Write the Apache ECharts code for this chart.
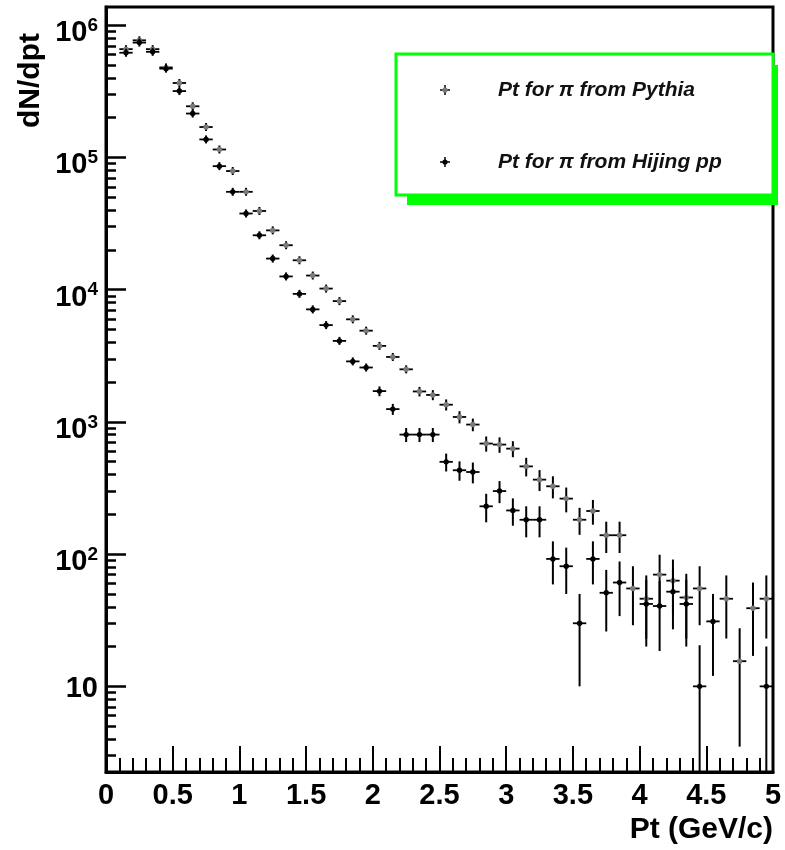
<!DOCTYPE html>
<html>
<head>
<meta charset="utf-8">
<script src="https://cdn.jsdelivr.net/npm/echarts@6/dist/echarts.min.js"></script>
<style>
html,body{margin:0;padding:0;background:#fff;}
#chart{width:785px;height:850px;}
</style>
</head>
<body>
<div id="chart"></div>
<script>
// ---- data ----
const ptBins = [0.15,0.25,0.35,0.45,0.55,0.65,0.75,0.85,0.95,1.05,1.15,1.25,1.35,1.45,1.55,1.65,1.75,1.85,1.95,2.05,2.15,2.25,2.35,2.45,2.55,2.65,2.75,2.85,2.95,3.05,3.15,3.25,3.35,3.45,3.55,3.65,3.75,3.85,3.95,4.05,4.15,4.25,4.35,4.45,4.55,4.65,4.75,4.85,4.95];
const pythiaValues = [660000,770000,660000,480000,366000,244000,170000,115000,79000,55000,39400,28100,21700,16700,12800,10200,8200,5970,4900,3760,3100,2500,1700,1600,1350,1090,955,686,674,628,461,366,326,263,182,212,139,139,55,46,70,63,47,55,null,46,15.5,39,46];
const pythiaErrors = [2800,3000,2800,2400,2100,1700,1430,1170,970,810,690,580,510,450,390,350,310,270,240,210,190,170,140,140,130,115,105,90,90,87,74,66,62,56,42,45,37,37,26,23,29,28,24,26,null,23,12,22,23];
const hijingValues = [620000,740000,630000,470000,318000,215000,137000,86000,55000,37700,25800,17200,12600,9300,7100,5400,4100,2870,2580,1710,1250,802,802,802,499,431,418,230,300,214,182,182,92,81,30,92,51,61,null,42,40.5,52,42,10,31,null,null,null,10];
const hijingErrors = [2730,2980,2750,2370,1950,1600,1280,1020,810,670,560,450,390,330,290,255,220,185,175,145,120,98,98,98,77,72,75,56,57,50,48,48,33,31,20,33,25,27,null,22,22,25,22,10.5,19,null,null,null,10];
const seriesNames = ['Pt for \u03c0 from Pythia', 'Pt for \u03c0 from Hijing pp'];
const xTickValues = [0,0.5,1,1.5,2,2.5,3,3.5,4,4.5,5];
const yMajorTicks = [10,100,1000,10000,100000,1000000];
const yMinorTicks = [3,4,5,6,7,8,9,20,30,40,50,60,70,80,90,200,300,400,500,600,700,800,900,2000,3000,4000,5000,6000,7000,8000,9000,20000,30000,40000,50000,60000,70000,80000,90000,200000,300000,400000,500000,600000,700000,800000,900000];
const binHalfWidth = 0.05;
const yMin = 2.25, yMax = 1.375e6;

function toData(vals, errs) {
  const out = [];
  for (let i = 0; i < ptBins.length; i++) {
    if (vals[i] != null) out.push([ptBins[i], vals[i], errs[i]]);
  }
  return out;
}

function makeRender(markerColor) {
  return function (params, api) {
    const x = api.value(0), y = api.value(1), e = api.value(2);
    const pL = api.coord([x - binHalfWidth, y]);
    const pR = api.coord([x + binHalfWidth, y]);
    const c = api.coord([x, y]);
    const lo = Math.max(y - e, yMin / 10);
    const pHi = api.coord([x, y + e]);
    const pLo = api.coord([x, lo]);
    const top = Math.min(pHi[1], c[1] - 4);
    const bot = Math.max(pLo[1], c[1] + 4);
    return {
      type: 'group',
      children: [
        {type: 'line', shape: {x1: pL[0], y1: pL[1], x2: pR[0], y2: pR[1]}, style: {stroke: '#000', lineWidth: 1.8}},
        {type: 'line', shape: {x1: c[0], y1: top, x2: c[0], y2: bot}, style: {stroke: '#000', lineWidth: 2}},
        {type: 'circle', shape: {cx: c[0], cy: c[1], r: 2.7}, style: {fill: markerColor}}
      ]
    };
  };
}

const FONT = 'Liberation Sans';
const chart = echarts.init(document.getElementById('chart'), null, {renderer: 'canvas'});

const legendX = 396, legendY = 54, legendW = 377, legendH = 141;

chart.setOption({
  animation: false,
  backgroundColor: '#fff',
  grid: {left: 106, right: 12, top: 7, bottom: 78, show: true, borderColor: '#000', borderWidth: 3, backgroundColor: 'transparent'},
  xAxis: {
    type: 'value', min: 0, max: 5, interval: 0.5,
    name: 'Pt (GeV/c)', nameLocation: 'end', nameGap: 0,
    nameTextStyle: {fontFamily: FONT, fontSize: 30, fontWeight: 'bold', color: '#000', align: 'right', verticalAlign: 'top', padding: [43, 0, 0, 0]},
    axisLine: {show: true, lineStyle: {color: '#000', width: 3}},
    axisTick: {show: true, inside: true, length: 26, lineStyle: {color: '#000', width: 2}},
    minorTick: {show: true, splitNumber: 5, length: 14, lineStyle: {color: '#000', width: 2}},
    splitLine: {show: false},
    axisLabel: {fontFamily: FONT, fontSize: 29, fontWeight: 'bold', color: '#000', margin: 9,
      customValues: xTickValues, showMinLabel: true, showMaxLabel: true}
  },
  yAxis: [
    {
      type: 'log', logBase: 10, min: yMin, max: yMax,
      name: 'dN/dpt', nameLocation: 'end', nameRotate: 90, nameGap: -26,
      nameTextStyle: {fontFamily: FONT, fontSize: 30, fontWeight: 'bold', color: '#000', align: 'right', verticalAlign: 'bottom', padding: [0, 0, 60, 0]},
      axisLine: {show: true, lineStyle: {color: '#000', width: 3}},
      axisTick: {show: true, inside: true, length: 20, customValues: yMajorTicks, lineStyle: {color: '#000', width: 2.5}},
      minorTick: {show: false},
      splitLine: {show: false},
      axisLabel: {
        customValues: yMajorTicks, margin: 8, color: '#000',
        fontFamily: FONT, fontSize: 29, fontWeight: 'bold',
        formatter: function (v) {
          const e = Math.round(Math.log10(v));
          return e === 1 ? '{m|10}' : '{b|10}{s|' + e + '}';
        },
        rich: {
          m: {fontFamily: FONT, fontSize: 29, fontWeight: 'bold', color: '#000', padding: [6, 0, 0, 0]},
          b: {fontFamily: FONT, fontSize: 29, fontWeight: 'bold', color: '#000', lineHeight: 30, padding: [16, 0, 0, 0]},
          s: {fontFamily: FONT, fontSize: 19, fontWeight: 'bold', color: '#000', lineHeight: 19, verticalAlign: 'top', padding: [6, 0, 0, 0]}
        }
      }
    },
    {
      type: 'log', logBase: 10, min: yMin, max: yMax, position: 'left',
      axisLine: {show: false},
      axisTick: {show: true, inside: true, length: 10, customValues: yMinorTicks, lineStyle: {color: '#000', width: 2.5}},
      axisLabel: {show: false},
      splitLine: {show: false}
    }
  ],
  series: [
    {name: seriesNames[0], type: 'custom', clip: true, xAxisIndex: 0, yAxisIndex: 0,
     renderItem: makeRender('#7a7a7a'), encode: {x: 0, y: 1}, data: toData(pythiaValues, pythiaErrors), z: 3},
    {name: seriesNames[1], type: 'custom', clip: true, xAxisIndex: 0, yAxisIndex: 0,
     renderItem: makeRender('#000000'), encode: {x: 0, y: 1}, data: toData(hijingValues, hijingErrors), z: 4}
  ],
  graphic: [
    {type: 'rect', z: 20, shape: {x: legendX + 11, y: legendY + legendH + 1, width: 778 - (legendX + 11), height: 9}, style: {fill: '#00ff00'}},
    {type: 'rect', z: 20, shape: {x: legendX + legendW, y: legendY + 11, width: 5, height: legendH - 1}, style: {fill: '#00ff00'}},
    {type: 'rect', z: 21, shape: {x: legendX, y: legendY, width: legendW, height: legendH}, style: {fill: '#fff', stroke: '#00ff00', lineWidth: 3}},
    {type: 'line', z: 22, shape: {x1: 440, y1: 90, x2: 450, y2: 90}, style: {stroke: '#000', lineWidth: 1.5}},
    {type: 'line', z: 22, shape: {x1: 445, y1: 85, x2: 445, y2: 95}, style: {stroke: '#000', lineWidth: 1.5}},
    {type: 'circle', z: 23, shape: {cx: 445, cy: 90, r: 2.6}, style: {fill: '#7a7a7a'}},
    {type: 'line', z: 22, shape: {x1: 440, y1: 162, x2: 450, y2: 162}, style: {stroke: '#000', lineWidth: 1.5}},
    {type: 'line', z: 22, shape: {x1: 445, y1: 157, x2: 445, y2: 167}, style: {stroke: '#000', lineWidth: 1.5}},
    {type: 'circle', z: 23, shape: {cx: 445, cy: 162, r: 2.6}, style: {fill: '#000'}},
    {type: 'text', z: 23, x: 498, y: 90, style: {text: seriesNames[0], fontFamily: FONT, fontSize: 21, fontWeight: 'bold', fontStyle: 'italic', fill: '#111', verticalAlign: 'middle', align: 'left'}},
    {type: 'text', z: 23, x: 498, y: 162, style: {text: seriesNames[1], fontFamily: FONT, fontSize: 21, fontWeight: 'bold', fontStyle: 'italic', fill: '#111', verticalAlign: 'middle', align: 'left'}}
  ]
});
</script>
</body>
</html>
